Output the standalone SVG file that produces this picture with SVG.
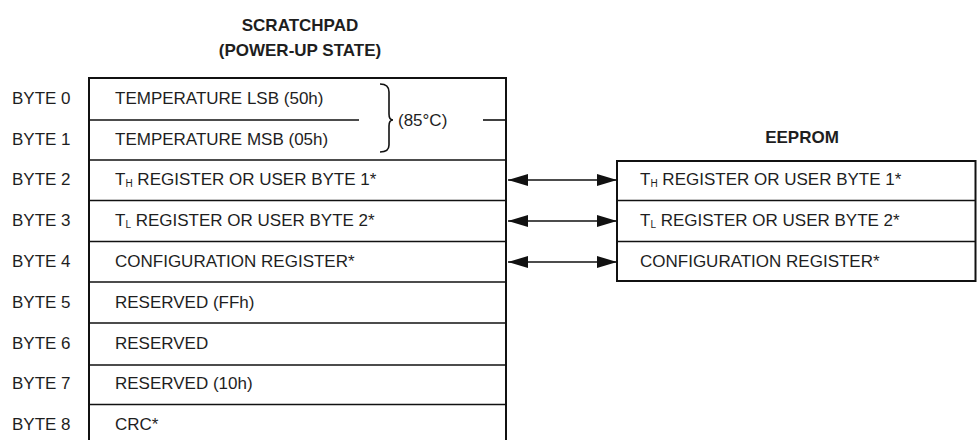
<svg xmlns="http://www.w3.org/2000/svg" width="977" height="440" viewBox="0 0 977 440">
  <defs>
    <style>
      text { font-family: "Liberation Sans", Arial, sans-serif; font-size: 17px; fill: #1e1e1e; }
      .title { font-weight: bold; text-anchor: middle; }
      .sub { font-size: 10px; }
      .frame { fill: none; stroke: #111; stroke-width: 2; }
      .rule { stroke: #111; stroke-width: 1.6; fill: none; }
      .link { stroke: #111; stroke-width: 1.6; fill: none; marker-start: url(#head); marker-end: url(#head); }
    </style>
    <marker id="head" viewBox="0 0 20 12" refX="20" refY="6" markerWidth="20" markerHeight="12" markerUnits="userSpaceOnUse" orient="auto-start-reverse">
      <path d="M0,0 L20,6 L0,12 Z" fill="#111"/>
    </marker>
  </defs>

  <!-- headings -->
  <g id="scratchpad-title">
    <text class="title" x="300" y="31">SCRATCHPAD</text>
    <text class="title" x="300" y="56">(POWER-UP STATE)</text>
  </g>
  <g id="eeprom-title">
    <text class="title" x="802" y="143">EEPROM</text>
  </g>

  <!-- scratchpad memory map -->
  <g id="scratchpad">
    <path class="frame" d="M89,440 V78 H506 V440"/>
    <line class="rule" x1="89" y1="120" x2="359" y2="120"/>
    <line class="rule" x1="483" y1="120" x2="506" y2="120"/>
    <line class="rule" x1="89" y1="160" x2="506" y2="160"/>
    <line class="rule" x1="89" y1="200.5" x2="506" y2="200.5"/>
    <line class="rule" x1="89" y1="241.5" x2="506" y2="241.5"/>
    <line class="rule" x1="89" y1="282" x2="506" y2="282"/>
    <line class="rule" x1="89" y1="323" x2="506" y2="323"/>
    <line class="rule" x1="89" y1="365" x2="506" y2="365"/>
    <line class="rule" x1="89" y1="404.5" x2="506" y2="404.5"/>
  </g>

  <g id="byte0">
    <text x="12" y="104">BYTE 0</text>
    <text x="115" y="104">TEMPERATURE LSB (50h)</text>
  </g>
  <g id="byte1">
    <text x="12" y="145">BYTE 1</text>
    <text x="115" y="145">TEMPERATURE MSB (05h)</text>
  </g>
  <g id="byte2">
    <text x="12" y="185">BYTE 2</text>
    <text x="115" y="185">T<tspan class="sub" dy="1.5">H</tspan><tspan dy="-1.5"> REGISTER OR USER BYTE 1*</tspan></text>
  </g>
  <g id="byte3">
    <text x="12" y="226">BYTE 3</text>
    <text x="115" y="226">T<tspan class="sub" dy="1.5">L</tspan><tspan dy="-1.5"> REGISTER OR USER BYTE 2*</tspan></text>
  </g>
  <g id="byte4">
    <text x="12" y="267">BYTE 4</text>
    <text x="115" y="267">CONFIGURATION REGISTER*</text>
  </g>
  <g id="byte5">
    <text x="12" y="308">BYTE 5</text>
    <text x="115" y="308">RESERVED (FFh)</text>
  </g>
  <g id="byte6">
    <text x="12" y="349">BYTE 6</text>
    <text x="115" y="349">RESERVED</text>
  </g>
  <g id="byte7">
    <text x="12" y="389">BYTE 7</text>
    <text x="115" y="389">RESERVED (10h)</text>
  </g>
  <g id="byte8">
    <text x="12" y="430">BYTE 8</text>
    <text x="115" y="430">CRC*</text>
  </g>

  <!-- temperature brace -->
  <g id="temperature-brace">
    <path class="rule" d="M380,84 Q389,84 389,92 V114 Q389,120 393,120 Q389,120 389,126 V145 Q389,152 380,152"/>
    <text x="398" y="126">(85°C)</text>
  </g>

  <!-- EEPROM copy -->
  <g id="eeprom">
    <rect class="frame" x="617" y="161" width="358.5" height="120"/>
    <line class="rule" x1="617" y1="200.5" x2="976" y2="200.5"/>
    <line class="rule" x1="617" y1="241.5" x2="976" y2="241.5"/>
  </g>
  <g id="eeprom-th">
    <text x="640" y="185">T<tspan class="sub" dy="1.5">H</tspan><tspan dy="-1.5"> REGISTER OR USER BYTE 1*</tspan></text>
  </g>
  <g id="eeprom-tl">
    <text x="640" y="226">T<tspan class="sub" dy="1.5">L</tspan><tspan dy="-1.5"> REGISTER OR USER BYTE 2*</tspan></text>
  </g>
  <g id="eeprom-config">
    <text x="640" y="267">CONFIGURATION REGISTER*</text>
  </g>

  <!-- scratchpad <-> EEPROM transfers -->
  <g id="connectors">
    <line class="link" x1="508" y1="180" x2="617" y2="180"/>
    <line class="link" x1="508" y1="221" x2="617" y2="221"/>
    <line class="link" x1="508" y1="262" x2="617" y2="262"/>
  </g>
</svg>
